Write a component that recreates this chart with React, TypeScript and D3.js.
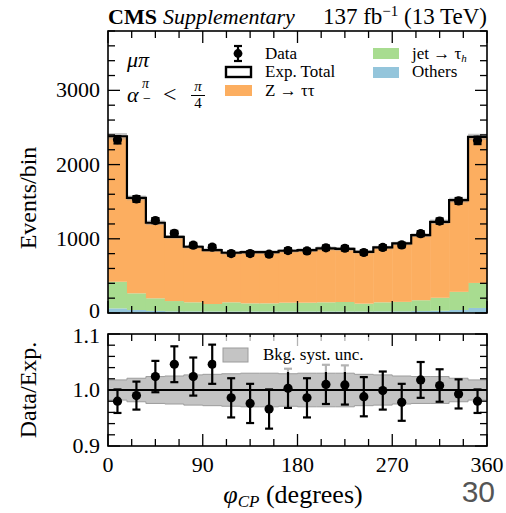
import React from "react";
import * as d3 from "d3";

// phi_CP bins, 18 degrees wide
const binEdges = d3.range(0, 361, 18);

// expected total (events / bin)
const expTotal = [2382, 1552, 1216, 1027, 893, 848, 812, 821, 821, 839, 848, 870, 865, 825, 884, 938, 1050, 1229, 1521, 2373];
// backgrounds
const others = [62, 40, 28, 22, 21, 20, 20, 20, 20, 20, 20, 20, 20, 20, 21, 22, 26, 30, 40, 68];
const jetFake = [359, 225, 170, 139, 123, 101, 124, 110, 110, 119, 119, 124, 128, 106, 123, 128, 146, 175, 245, 337];
// data / exp. and its stat error
const ratio = [0.98, 0.99, 1.024, 1.046, 1.024, 1.046, 0.986, 0.976, 0.966, 1.003, 0.986, 1.01, 1.009, 0.988, 0.999, 0.978, 1.018, 1.008, 0.993, 0.98];
const ratioErr = [0.021, 0.025, 0.028, 0.032, 0.034, 0.035, 0.035, 0.035, 0.035, 0.035, 0.035, 0.035, 0.035, 0.035, 0.034, 0.033, 0.032, 0.029, 0.026, 0.021];
// relative bkg. syst. unc.
const bkgUnc = [0.018, 0.021, 0.024, 0.025, 0.027, 0.028, 0.029, 0.03, 0.03, 0.029, 0.03, 0.03, 0.03, 0.028, 0.027, 0.025, 0.024, 0.024, 0.021, 0.018];

const xTicks = [0, 90, 180, 270, 360];
const yTopTicks = [0, 1000, 2000, 3000];
const yRatTicks = [0.9, 1.0, 1.1];

const colors = { ztt: "#fcae60", jet: "#a8dc90", others: "#94c5db" };
const serif = "'Liberation Serif', serif";

export default function App() {
  const L = 108, R = 487;
  const x = d3.scaleLinear().domain([0, 360]).range([L, R]);
  const yTop = d3.scaleLinear().domain([0, 3800]).range([313, 31]);
  const yRat = d3.scaleLinear().domain([0.9, 1.1]).range([446, 334]);

  const rows = expTotal.map((t, i) => ({
    lo: binEdges[i],
    hi: binEdges[i + 1],
    others: others[i],
    jet: jetFake[i],
    ztt: t - others[i] - jetFake[i],
  }));
  const stack = d3.stack<any>().keys(["others", "jet", "ztt"])(rows);

  // step helpers: repeat last value at right edge
  const stepPts = (vals: number[]) => [...vals.map((v, i) => [binEdges[i], v]), [360, vals[vals.length - 1]]];
  const stepLine = (ys: d3.ScaleLinear<number, number>) =>
    d3.line<number[]>().x((d) => x(d[0])).y((d) => ys(d[1])).curve(d3.curveStepAfter);
  const bandArea = (ys: d3.ScaleLinear<number, number>) =>
    d3.area<number[]>().x((d) => x(d[0])).y0((d) => ys(d[1])).y1((d) => ys(d[2])).curve(d3.curveStepAfter);

  const topBand = [...expTotal.map((t, i) => [binEdges[i], t * (1 - bkgUnc[i]), t * (1 + bkgUnc[i])]), [360, expTotal[19] * (1 - bkgUnc[19]), expTotal[19] * (1 + bkgUnc[19])]];
  const ratBand = [...bkgUnc.map((u, i) => [binEdges[i], 1 - u, 1 + u]), [360, 1 - bkgUnc[19], 1 + bkgUnc[19]]];

  const centers = binEdges.slice(0, -1).map((e) => e + 9);
  const dataVals = expTotal.map((t, i) => t * ratio[i]);
  const dataErr = expTotal.map((t, i) => t * ratioErr[i]);

  const xMinor = d3.range(0, 361, 22.5);
  const ticks = (ys: d3.ScaleLinear<number, number>, major: number[], minorStep: number) => {
    const [y0, y1] = ys.domain();
    const minor = d3.range(y0, y1 + 1e-9, minorStep);
    const top = ys.range()[1], bot = ys.range()[0];
    const out: JSX.Element[] = [];
    xMinor.forEach((v, i) => {
      const len = xTicks.includes(v) ? 12 : 7;
      out.push(<line key={"xb" + i} x1={x(v)} x2={x(v)} y1={bot} y2={bot - len} />);
      out.push(<line key={"xt" + i} x1={x(v)} x2={x(v)} y1={top} y2={top + len} />);
    });
    minor.forEach((v, i) => {
      const isMaj = major.some((m) => Math.abs(m - v) < 1e-6);
      const len = isMaj ? 12 : 7;
      out.push(<line key={"yl" + i} x1={L} x2={L + len} y1={ys(v)} y2={ys(v)} />);
      out.push(<line key={"yr" + i} x1={R} x2={R - len} y1={ys(v)} y2={ys(v)} />);
    });
    return <g stroke="#000" strokeWidth={1.3}>{out}</g>;
  };

  const errBars = (cx: number[], cy: number[], lo: number[], hi: number[], key: string) =>
    cx.map((c, i) => (
      <g key={key + i}>
        <line x1={c} x2={c} y1={lo[i]} y2={hi[i]} stroke="#000" strokeWidth={2.2} />
        <line x1={c - 4} x2={c + 4} y1={lo[i]} y2={lo[i]} stroke="#000" strokeWidth={2.2} />
        <line x1={c - 4} x2={c + 4} y1={hi[i]} y2={hi[i]} stroke="#000" strokeWidth={2.2} />
        <circle cx={c} cy={cy[i]} r={4.6} fill="#000" />
      </g>
    ));

  const cxs = centers.map((c) => x(c));

  return (
    <svg width={506} height={513} style={{ position: "absolute", left: 0, top: 0, fontFamily: serif }}>
      <rect width={506} height={513} fill="#fff" />
      {/* header */}
      <text x={L} y={24} fontSize={22}>
        <tspan fontWeight="bold">CMS</tspan>
        <tspan fontStyle="italic" dx={6}>Supplementary</tspan>
      </text>
      <text x={R} y={24} fontSize={23} textAnchor="end">
        137 fb<tspan dy={-8} fontSize={15}>−1</tspan>
        <tspan dy={8}> (13 TeV)</tspan>
      </text>

      {/* top panel stacks */}
      {stack.map((s) => (
        <g key={s.key} fill={(colors as any)[s.key]}>
          {s.map((d, i) => (
            <rect key={i} x={x(d.data.lo)} width={x(d.data.hi) - x(d.data.lo) + 0.5} y={yTop(d[1])} height={yTop(d[0]) - yTop(d[1])} />
          ))}
        </g>
      ))}
      <path d={bandArea(yTop)(topBand) || ""} fill="#9a9a9a" opacity={0.55} />
      <path d={stepLine(yTop)(stepPts(expTotal)) || ""} fill="none" stroke="#000" strokeWidth={2.2} />
      {errBars(cxs, dataVals.map((v) => yTop(v)), dataVals.map((v, i) => yTop(v - dataErr[i])), dataVals.map((v, i) => yTop(v + dataErr[i])), "dt")}
      {ticks(yTop, yTopTicks, 200)}
      <rect x={L} y={31} width={R - L} height={282} fill="none" stroke="#000" strokeWidth={1.6} />

      {/* top legend */}
      <g fontSize={17}>
        <line x1={238} x2={238} y1={46} y2={61} stroke="#000" strokeWidth={2.2} />
        <line x1={234} x2={242} y1={46} y2={46} stroke="#000" strokeWidth={2.2} />
        <line x1={234} x2={242} y1={61} y2={61} stroke="#000" strokeWidth={2.2} />
        <circle cx={238} cy={53.5} r={4.4} />
        <text x={265} y={59}>Data</text>
        <rect x={226} y={67} width={25} height={10} fill="none" stroke="#000" strokeWidth={2.4} />
        <text x={265} y={77}>Exp. Total</text>
        <rect x={225} y={85} width={27} height={11} fill={colors.ztt} />
        <text x={265} y={96}>Z → ττ</text>
        <rect x={373} y={48} width={26} height={11} fill={colors.jet} />
        <text x={412} y={59}>jet → τ<tspan fontStyle="italic" fontSize={11} dy={3}>h</tspan></text>
        <rect x={373} y={67} width={26} height={11} fill={colors.others} />
        <text x={412} y={77}>Others</text>
      </g>

      {/* channel label */}
      <g fontSize={22} fontStyle="italic">
        <text x={127} y={67}>μπ</text>
        <text x={127} y={102}>α</text>
        <text x={142} y={88} fontSize={14}>π</text>
        <text x={143} y={103} fontSize={14} fontStyle="normal">−</text>
        <text x={163} y={102} fontStyle="normal" fontSize={24}>&lt;</text>
        <text x={198} y={91} fontSize={15} textAnchor="middle">π</text>
        <line x1={191} x2={205} y1={95.5} y2={95.5} stroke="#000" strokeWidth={1} />
        <text x={198} y={108} fontSize={15} fontStyle="normal" textAnchor="middle">4</text>
      </g>

      {/* ratio panel */}
      <path d={bandArea(yRat)(ratBand) || ""} fill="#c4c4c4" stroke="#9c9c9c" strokeWidth={1} />
      <line x1={L} x2={R} y1={yRat(1)} y2={yRat(1)} stroke="#000" strokeWidth={2.2} />
      {errBars(cxs, ratio.map((r) => yRat(r)), ratio.map((r, i) => yRat(r - ratioErr[i])), ratio.map((r, i) => yRat(r + ratioErr[i])), "rt")}
      {ticks(yRat, yRatTicks, 0.02)}
      <rect x={216} y={337} width={162} height={35} fill="#fff" opacity={0.7} />
      <rect x={223} y={348} width={25} height={14} fill="#c4c4c4" stroke="#9c9c9c" strokeWidth={1} />
      <text x={263} y={360} fontSize={17}>Bkg. syst. unc.</text>
      <rect x={L} y={334} width={R - L} height={112} fill="none" stroke="#000" strokeWidth={1.6} />

      {/* axis labels */}
      <g fontSize={22}>
        {yTopTicks.map((t) => (
          <text key={t} x={100} y={yTop(t) + (t === 0 ? 5 : 7)} textAnchor="end">{t}</text>
        ))}
        {yRatTicks.map((t) => (
          <text key={t} x={100} y={yRat(t) + (t === 1.1 ? 9 : 7)} textAnchor="end">{t.toFixed(1)}</text>
        ))}
        {xTicks.map((t) => (
          <text key={t} x={x(t)} y={472} textAnchor="middle">{t}</text>
        ))}
        <text transform="translate(36,198) rotate(-90)" textAnchor="middle" fontSize={24}>Events/bin</text>
        <text transform="translate(36,390) rotate(-90)" textAnchor="middle" fontSize={24}>Data/Exp.</text>
        <text x={293} y={503} textAnchor="middle" fontSize={26}>
          <tspan fontStyle="italic">φ</tspan>
          <tspan fontStyle="italic" fontSize={17} dy={4}>CP</tspan>
          <tspan dy={-4}> (degrees)</tspan>
        </text>
      </g>
      <text x={495} y={502} fontSize={30} fill="#555" textAnchor="end" fontFamily="'Liberation Sans', Arial, sans-serif">30</text>
    </svg>
  );
}
